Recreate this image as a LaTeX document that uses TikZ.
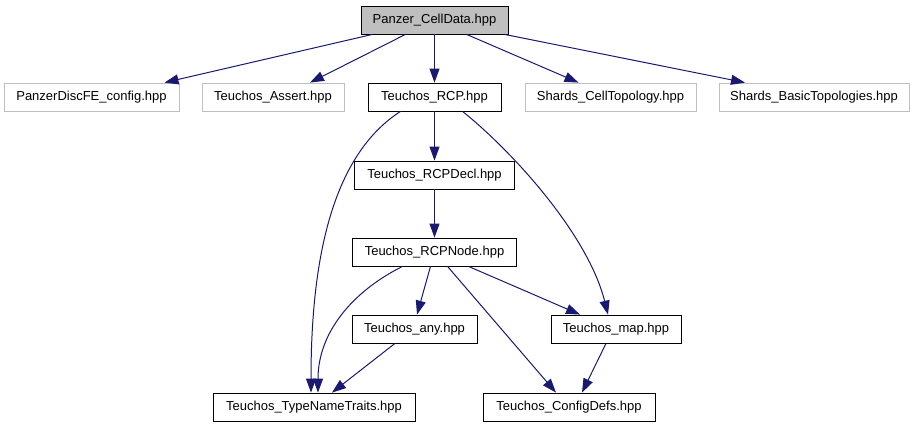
\documentclass[tikz,border=0pt]{standalone}
\usepackage{fontspec}
\setmainfont{Liberation Sans}
\usetikzlibrary{arrows.meta}
\definecolor{edgeblue}{HTML}{191970}
\definecolor{lightframe}{HTML}{BFBFBF}
\begin{document}
\begin{tikzpicture}
[x=1pt,y=-1pt,
every node/.style={draw,minimum height=28pt,inner xsep=0pt,line width=0.8pt,font=\fontsize{13}{15}\selectfont},
ext/.style={draw=lightframe},
top/.style={fill=lightframe},
dep/.style={draw=edgeblue,line width=1pt,-{Triangle[length=14pt,width=10pt]}},
]
\useasboundingbox (0,0) rectangle (915,427);

\node[top,minimum width=147pt] (cell) at (434.5,20) {Panzer\_CellData.hpp};
\node[ext,minimum width=175pt] (cfg) at (91.5,97) {PanzerDiscFE\_config.hpp};
\node[ext,minimum width=142pt] (assert) at (273,97) {Teuchos\_Assert.hpp};
\node[minimum width=133pt] (rcp) at (434.5,97) {Teuchos\_RCP.hpp};
\node[ext,minimum width=171pt] (celltopo) at (610.5,97) {Shards\_CellTopology.hpp};
\node[ext,minimum width=190pt] (basic) at (814,97) {Shards\_BasicTopologies.hpp};
\node[minimum width=160pt] (decl) at (434.5,175) {Teuchos\_RCPDecl.hpp};
\node[minimum width=164pt] (rcpnode) at (434.5,252) {Teuchos\_RCPNode.hpp};
\node[minimum width=125pt] (any) at (414.5,329) {Teuchos\_any.hpp};
\node[minimum width=130pt] (map) at (616,329) {Teuchos\_map.hpp};
\node[minimum width=202pt] (tnt) at (314,407) {Teuchos\_TypeNameTraits.hpp};
\node[minimum width=172pt] (cdefs) at (569,407) {Teuchos\_ConfigDefs.hpp};

% includes of the cell data header
\draw[dep] ([xshift=-62pt]cell.south) -- ([xshift=73pt]cfg.north);
\draw[dep] ([xshift=-29pt]cell.south) -- ([xshift=37pt]assert.north);
\draw[dep] (cell) -- (rcp);
\draw[dep] ([xshift=32pt]cell.south) -- ([xshift=-32pt]celltopo.north);
\draw[dep] ([xshift=70pt]cell.south) -- ([xshift=-69pt]basic.north);

% RCP
\draw[dep] (rcp) -- (decl);
\draw[dep] ([xshift=-34pt]rcp.south) .. controls +(-62,40) and +(0,-150) .. ([xshift=-3pt]tnt.north);
\draw[dep] ([xshift=28pt]rcp.south) .. controls +(50,40) and +(-20,-80) .. ([xshift=-8pt]map.north);
\draw[dep] (decl) -- (rcpnode);

% RCPNode
\draw[dep] ([xshift=-32pt]rcpnode.south) .. controls +(-50,25) and +(0,-60) .. ([xshift=4pt]tnt.north);
\draw[dep] ([xshift=-4pt]rcpnode.south) -- ([xshift=2.5pt]any.north);
\draw[dep] ([xshift=13pt]rcpnode.south) -- ([xshift=-13pt]cdefs.north);
\draw[dep] ([xshift=34pt]rcpnode.south) -- ([xshift=-36pt]map.north);
\draw[dep] ([xshift=-19.5pt]any.south) -- ([xshift=18pt]tnt.north);
\draw[dep] ([xshift=-10pt]map.south) -- ([xshift=13pt]cdefs.north);
\end{tikzpicture}
\end{document}
